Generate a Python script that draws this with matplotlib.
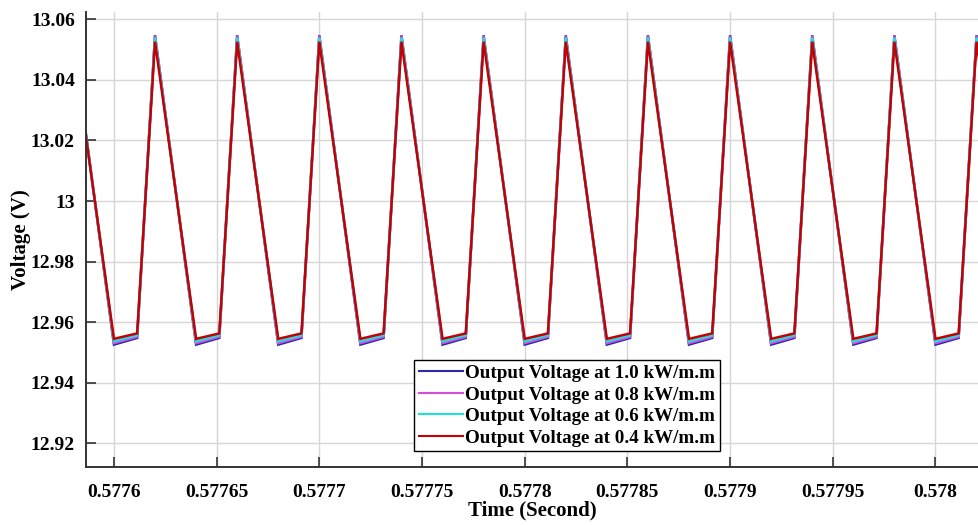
import matplotlib
matplotlib.use("Agg")
import matplotlib.pyplot as plt
from matplotlib.ticker import FixedLocator, FixedFormatter

plt.rcParams['font.family'] = ['Liberation Serif', 'DejaVu Serif']
plt.rcParams['font.weight'] = 'bold'

# Vertex times (s): start, then per switching cycle: minimum, knee, peak; end
time_s = [0.5775862,
          0.5776000, 0.5776113, 0.5776200,
          0.5776400, 0.5776513, 0.5776600,
          0.5776800, 0.5776913, 0.5777000,
          0.5777200, 0.5777313, 0.5777400,
          0.5777600, 0.5777713, 0.5777800,
          0.5778000, 0.5778113, 0.5778200,
          0.5778400, 0.5778513, 0.5778600,
          0.5778800, 0.5778913, 0.5779000,
          0.5779200, 0.5779313, 0.5779400,
          0.5779600, 0.5779713, 0.5779800,
          0.5780000, 0.5780113, 0.5780200,
          0.5780250]

v_10 = [13.0230,
        12.9526, 12.9548, 13.0547, 12.9526, 12.9548, 13.0547,
        12.9526, 12.9548, 13.0547, 12.9526, 12.9548, 13.0547,
        12.9526, 12.9548, 13.0547, 12.9526, 12.9548, 13.0547,
        12.9526, 12.9548, 13.0547, 12.9526, 12.9548, 13.0547,
        12.9526, 12.9548, 13.0547, 12.9526, 12.9548, 13.0547,
        12.9526, 12.9548, 13.0547,
        13.0294]
v_08 = [13.0228,
        12.9531, 12.9552, 13.0544, 12.9531, 12.9552, 13.0544,
        12.9531, 12.9552, 13.0544, 12.9531, 12.9552, 13.0544,
        12.9531, 12.9552, 13.0544, 12.9531, 12.9552, 13.0544,
        12.9531, 12.9552, 13.0544, 12.9531, 12.9552, 13.0544,
        12.9531, 12.9552, 13.0544, 12.9531, 12.9552, 13.0544,
        12.9531, 12.9552, 13.0544,
        13.0292]
v_06 = [13.0226,
        12.9537, 12.9557, 13.0539, 12.9537, 12.9557, 13.0539,
        12.9537, 12.9557, 13.0539, 12.9537, 12.9557, 13.0539,
        12.9537, 12.9557, 13.0539, 12.9537, 12.9557, 13.0539,
        12.9537, 12.9557, 13.0539, 12.9537, 12.9557, 13.0539,
        12.9537, 12.9557, 13.0539, 12.9537, 12.9557, 13.0539,
        12.9537, 12.9557, 13.0539,
        13.0288]
v_04 = [13.0222,
        12.9545, 12.9563, 13.0526, 12.9545, 12.9563, 13.0526,
        12.9545, 12.9563, 13.0526, 12.9545, 12.9563, 13.0526,
        12.9545, 12.9563, 13.0526, 12.9545, 12.9563, 13.0526,
        12.9545, 12.9563, 13.0526, 12.9545, 12.9563, 13.0526,
        12.9545, 12.9563, 13.0526, 12.9545, 12.9563, 13.0526,
        12.9545, 12.9563, 13.0526,
        13.0278]

series_labels = ["Output Voltage at 1.0 kW/m.m",
                 "Output Voltage at 0.8 kW/m.m",
                 "Output Voltage at 0.6 kW/m.m",
                 "Output Voltage at 0.4 kW/m.m"]
series_colors = ["#2a2aa8", "#d94cd9", "#1fe0e0", "#c40000"]

x_ticks = [0.5776, 0.57765, 0.5777, 0.57775, 0.5778, 0.57785, 0.5779, 0.57795, 0.578]
x_tick_labels = ["0.5776", "0.57765", "0.5777", "0.57775", "0.5778", "0.57785", "0.5779", "0.57795", "0.578"]
y_ticks = [12.92, 12.94, 12.96, 12.98, 13.00, 13.02, 13.04, 13.06]
y_tick_labels = ["12.92", "12.94", "12.96", "12.98", "13", "13.02", "13.04", "13.06"]

fig = plt.figure(figsize=(9.79, 5.25), dpi=100)
ax = fig.add_axes([86/979, 58/525, 1 - 86/979, (467-12)/525])

for v, lab, col in zip([v_10, v_08, v_06, v_04], series_labels, series_colors):
    ax.plot(time_s, v, color=col, lw=1.8, label=lab, solid_joinstyle='miter')

ax.set_xlim(0.5775864, 0.5780212)
ax.set_ylim(12.9122, 13.0624)

ax.xaxis.set_major_locator(FixedLocator(x_ticks))
ax.xaxis.set_major_formatter(FixedFormatter(x_tick_labels))
ax.yaxis.set_major_locator(FixedLocator(y_ticks))
ax.yaxis.set_major_formatter(FixedFormatter(y_tick_labels))

ax.grid(True, color="#d6d6d6", lw=1.0)
ax.set_axisbelow(True)
ax.tick_params(direction='in', length=7, width=1.2, labelsize=14, color="#333333")
ax.tick_params(axis='x', pad=12)
ax.tick_params(axis='y', pad=8)
for lab in ax.get_xticklabels() + ax.get_yticklabels():
    lab.set_fontweight('bold')

ax.spines['top'].set_visible(False)
ax.spines['right'].set_visible(False)
for s in ('left', 'bottom'):
    ax.spines[s].set_color("#333333")
    ax.spines[s].set_linewidth(1.4)

ax.set_xlabel("Time (Second)", fontsize=15, fontweight='bold', labelpad=0)
ax.set_ylabel("Voltage (V)", fontsize=15, fontweight='bold')
ax.yaxis.set_label_coords(-0.062, 0.5)

leg = ax.legend(loc='upper left', bbox_to_anchor=(414/979, 1 - 360/525),
                bbox_transform=fig.transFigure,
                prop={'weight': 'bold', 'size': 13.7},
                frameon=True, fancybox=False, framealpha=1,
                edgecolor='black', handlelength=2.3, handletextpad=0.15,
                borderpad=0.25, labelspacing=0.22, borderaxespad=0)
leg.get_frame().set_linewidth(1.0)
for line in leg.get_lines():
    line.set_linewidth(1.5)

fig.savefig("out.png", dpi=100)
